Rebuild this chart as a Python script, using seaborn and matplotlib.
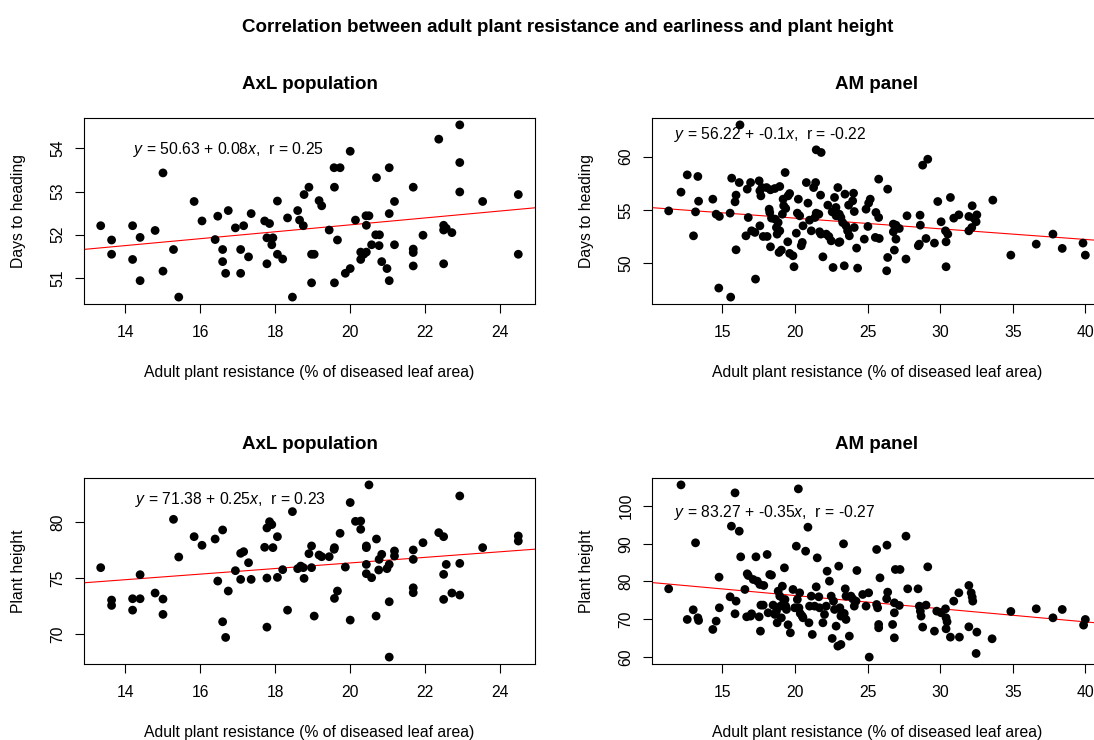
import numpy as np
import pandas as pd
import matplotlib
matplotlib.use("Agg")
import matplotlib.pyplot as plt
import seaborn as sns

# ---------------- data ----------------
main_title = "Correlation between adult plant resistance and earliness and plant height"
panel_titles = ["AxL population", "AM panel", "AxL population", "AM panel"]
x_label = "Adult plant resistance (% of diseased leaf area)"
y_labels = ["Days to heading", "Days to heading", "Plant height", "Plant height"]

intercepts = [50.63, 56.22, 71.38, 83.27]
slopes = [0.08, -0.1, 0.25, -0.35]
r_values = ["0.25", "-0.22", "0.23", "-0.27"]
slope_text = ["0.08", "-0.1", "0.25", "-0.35"]
intercept_text = ["50.63", "56.22", "71.38", "83.27"]

axl_dth_x = [13.35, 13.64, 13.64, 14.20, 14.20, 14.40, 14.40, 14.80, 15.01, 15.01, 15.29, 15.43,
             15.84, 16.05, 16.40, 16.47, 16.60, 16.60, 16.68, 16.75, 16.94, 17.08, 17.08, 17.16,
             17.29, 17.36, 17.72, 17.85, 17.78, 17.94, 17.91, 17.78, 18.06, 18.06, 18.20, 18.33,
             18.46, 18.60, 18.65,
             18.75, 18.77, 18.90, 18.97, 19.04, 18.97, 19.17, 19.24, 19.44, 19.57, 19.73, 19.58,
             19.66, 19.58, 20.00, 19.87, 20.00, 20.14, 20.42, 20.50, 20.43, 20.70, 20.68, 20.78,
             20.57, 20.77, 20.28, 20.43, 20.36, 20.28, 20.84, 20.98, 21.04, 21.04, 21.18, 21.04,
             21.18, 21.68, 21.68, 21.68, 21.68, 21.94, 22.36, 22.49, 22.56, 22.49, 22.71, 22.49,
             22.92, 22.92, 22.92, 23.53, 24.48, 24.48]
axl_dth_y = [52.21, 51.88, 51.55, 52.21, 51.43, 51.94, 50.94, 52.10, 53.43, 51.16, 51.66, 50.56,
             52.77, 52.32, 51.89, 52.43, 51.66, 51.38, 51.11, 52.56, 52.16, 51.66, 51.11, 52.21,
             51.49, 52.49, 52.32, 52.26, 51.93, 51.93, 51.77, 51.33, 52.78, 51.55, 51.44, 52.39,
             50.56, 52.56, 52.34,
             52.21, 52.93, 53.10, 51.55, 51.55, 50.89, 52.79, 52.67, 52.11, 53.55, 53.55, 53.10,
             51.88, 50.89, 53.93, 51.11, 51.22, 52.34, 52.44, 52.44, 52.22, 53.32, 52.00, 52.00,
             51.77, 51.75, 51.60, 51.60, 51.55, 51.43, 51.38, 51.22, 50.94, 53.55, 52.77, 52.49,
             51.77, 53.10, 51.67, 51.59, 51.28, 51.99, 54.21, 52.22, 52.15, 52.11, 52.05, 51.33,
             54.54, 53.67, 52.99, 52.77, 52.93, 51.55]

am_dth_x = [11.30, 12.15, 12.58, 13.31, 13.01, 13.15, 13.36, 14.34, 14.57, 14.79, 14.75, 15.57,
            15.53, 15.64, 15.94, 15.87, 15.94, 16.21, 16.16, 16.78, 16.62, 16.71, 16.94, 17.01,
            17.24, 17.28, 17.53, 17.58, 17.65, 17.72, 17.58, 17.81, 18.08, 18.04, 18.31, 18.22,
            18.26, 18.38, 18.31, 18.61, 18.95, 18.63, 18.84, 18.72, 18.95, 18.77, 18.90, 19.06,
            19.18, 19.22, 19.13, 19.32, 19.36, 19.52, 19.63, 19.50, 19.63, 19.86, 19.93, 20.09,
            20.16, 20.23, 20.32, 20.43, 20.50, 20.55, 20.78, 20.89, 21.00, 21.12, 21.28, 21.42,
            21.46, 21.80, 21.46, 21.37, 21.64, 21.69, 21.78, 21.92, 21.76, 22.15, 22.33, 22.49,
            22.26, 22.56, 22.72, 22.95, 22.62, 23.01, 22.83,
            22.82, 23.05, 23.16, 23.28, 23.09, 23.39, 23.44, 23.51, 23.62, 23.74, 23.69, 23.97,
            24.03, 24.08, 24.08, 24.24, 24.31, 24.77, 24.89, 25.07, 25.18, 25.02, 25.57, 25.76,
            25.53, 25.80, 25.76, 26.38, 26.38, 26.31, 26.77, 26.95, 27.18, 26.77, 26.95, 26.84,
            27.64, 27.71, 28.61, 28.63, 28.56, 28.49, 28.79, 29.14, 29.02, 29.60, 29.83, 30.06,
            30.36, 30.52, 30.40, 30.40, 30.70, 30.93, 31.28, 31.97, 32.20, 32.31, 32.52, 32.47,
            31.97, 32.17, 33.62, 34.86, 36.61, 37.76, 38.40, 39.83, 39.99]
am_dth_y = [54.90, 56.66, 58.28, 58.13, 52.56, 54.81, 55.81, 56.00, 54.59, 54.38, 47.66, 46.81,
            54.69, 57.97, 56.38, 55.75, 51.25, 62.97, 57.56, 54.28, 52.56, 56.94, 57.56, 53.03,
            52.88, 48.50, 57.72, 56.78, 56.31, 57.09, 53.50, 52.50, 52.50, 57.09, 56.88, 55.06,
            54.75, 54.22, 51.53, 57.00, 57.19, 54.13, 53.81, 53.34, 53.03, 52.72, 51.00, 51.22,
            56.00, 55.38, 54.59, 58.50, 55.13, 56.31, 56.53, 52.00, 50.91, 50.69, 49.66, 52.81,
            54.69, 56.00, 54.44, 51.63, 51.94, 53.50, 57.56, 55.63, 54.03, 53.03, 57.09, 57.56,
            60.63, 60.38, 54.69, 54.28, 54.59, 52.94, 52.72, 50.59, 56.38, 52.72, 52.50, 52.09,
            55.44, 54.81, 56.16, 57.09, 49.59, 51.94, 54.44,
            55.22, 54.59, 54.28, 53.81, 52.00, 49.75, 56.47, 53.50, 53.03, 52.56, 55.44, 55.84,
            56.56, 54.84, 53.34, 51.41, 49.53, 52.25, 55.06, 55.63, 56.00, 53.44, 54.75, 54.28,
            52.41, 52.31, 57.88, 56.94, 50.53, 49.28, 53.66, 53.56, 53.25, 52.94, 52.25, 51.22,
            50.38, 54.44, 54.50, 53.56, 51.78, 51.63, 59.19, 59.75, 52.31, 51.88, 55.78, 53.88,
            53.03, 52.72, 52.00, 49.66, 56.16, 54.22, 54.53, 54.38, 55.38, 54.22, 54.53, 53.88,
            53.03, 53.34, 55.91, 50.75, 51.78, 52.72, 51.38, 51.88, 50.75]

axl_ph_x = [13.35, 13.64, 13.64, 14.20, 14.20, 14.40, 14.40, 14.80, 15.01, 15.01, 15.29, 15.43,
            15.84, 16.05, 16.40, 16.47, 16.60, 16.60, 16.68, 16.75, 16.94, 17.08, 17.16, 17.08,
            17.29, 17.36, 17.72, 17.78, 17.85, 17.91, 17.94, 17.78, 17.78, 18.06, 18.06, 18.20,
            18.33, 18.46, 18.60,
            18.68, 18.75, 18.77, 18.90, 18.97, 18.97, 19.04, 19.17, 19.24, 19.44, 19.57, 19.58,
            19.73, 19.66, 19.58, 19.87, 20.00, 20.00, 20.14, 20.28, 20.28, 20.43, 20.43, 20.43,
            20.43, 20.50, 20.57, 20.70, 20.77, 20.84, 20.76, 20.69, 20.98, 21.04, 21.04, 21.04,
            21.18, 21.18, 21.68, 21.68, 21.68, 21.68, 21.94, 22.36, 22.49, 22.56, 22.49, 22.49,
            22.71, 22.92, 22.92, 22.92, 23.53, 24.48, 24.48]
axl_ph_y = [75.96, 73.06, 72.58, 73.18, 72.16, 73.18, 75.33, 73.69, 73.15, 71.78, 80.28, 76.91,
            78.73, 77.96, 78.52, 74.76, 79.33, 71.12, 69.72, 73.87, 75.69, 77.24, 77.39, 74.91,
            76.40, 74.91, 77.78, 79.51, 80.07, 79.81, 77.75, 75.03, 70.64, 78.73, 75.09, 75.78,
            72.16, 80.97, 75.87,
            76.10, 75.96, 75.00, 77.21, 77.90, 75.96, 71.63, 77.09, 76.94, 76.94, 77.60, 77.75,
            79.03, 73.87, 73.21, 76.01, 81.78, 71.27, 80.10, 80.13, 79.39, 77.90, 77.75, 76.25,
            75.42, 83.36, 75.06, 78.52, 76.70, 77.15, 75.75, 71.63, 75.87, 76.25, 72.91, 67.96,
            77.45, 77.00, 77.54, 76.70, 74.16, 73.72, 78.19, 79.09, 78.73, 76.25, 75.36, 73.12,
            73.69, 82.37, 76.34, 73.51, 77.75, 78.79, 78.34]

am_ph_x = [11.30, 12.15, 12.58, 12.99, 13.15, 13.31, 13.36, 14.34, 14.57, 14.77, 14.79, 15.53,
           15.62, 15.87, 15.94, 15.87, 16.16, 16.26, 16.55, 16.71, 16.78, 16.67, 16.94, 17.01,
           17.12, 17.31, 17.40, 17.53, 17.62, 17.58, 17.65, 17.81, 17.85, 18.08, 18.15, 18.26,
           18.38, 18.49, 18.61, 18.72, 18.77, 18.84, 18.95, 19.00, 19.06, 19.13, 19.22, 19.27,
           19.31, 19.36, 19.41, 19.52, 19.68, 19.86, 19.98, 20.09, 20.16, 20.23, 20.32, 20.27,
           20.36, 20.50, 20.55, 20.73, 20.89, 20.96, 21.00, 21.12, 21.19, 21.35, 21.46, 21.53,
           21.64, 21.69, 21.92, 22.03, 22.15, 22.21, 22.37, 22.49, 22.56, 22.65, 22.72, 22.83,
           22.95, 23.01,
           23.09, 23.16, 23.23, 23.16, 23.34, 23.39, 23.46, 23.51, 23.51, 23.74, 23.85, 23.97,
           24.08, 24.26, 24.20, 24.66, 24.89, 25.07, 25.11, 25.62, 25.62, 25.69, 25.76, 25.76,
           25.85, 26.33, 26.31, 26.38, 26.72, 26.84, 26.84, 26.84, 26.91, 27.23, 27.18, 27.64,
           27.76, 28.47, 28.56, 28.63, 28.68, 28.79, 29.02, 29.14, 29.60, 29.76, 30.06, 30.36,
           30.40, 30.47, 30.40, 30.70, 30.93, 31.28, 31.32, 31.97, 32.13, 32.20, 32.24, 31.97,
           32.52, 32.47, 33.57, 34.86, 36.61, 37.76, 38.40, 39.99, 39.87]
am_ph_y = [78.05, 105.66, 69.91, 72.48, 90.27, 70.35, 69.65, 67.26, 69.47, 81.15, 73.01, 75.93,
           94.69, 103.54, 74.78, 71.42, 93.36, 86.55, 77.88, 82.04, 81.59, 70.62, 70.80, 71.42,
           80.53, 86.55, 80.09, 70.62, 66.81, 79.20, 73.72, 73.72, 78.94, 87.17, 71.68, 81.86,
           81.68, 73.72, 71.24, 72.12, 69.03, 77.43, 76.11, 73.45, 70.35, 78.76, 75.04, 83.63,
           75.22, 73.45, 72.57, 68.50, 66.37, 77.88, 73.01, 89.38, 75.22, 104.60, 76.99, 73.01,
           71.50, 70.80, 70.35, 88.05, 94.42, 69.03, 73.45, 76.11, 65.93, 73.45, 78.58, 86.28,
           75.93, 73.01, 69.03, 71.24, 73.45, 82.74, 80.09, 76.11, 64.87, 74.78, 72.57, 68.14,
           62.83, 84.07,
           73.01, 70.80, 71.68, 63.27, 90.00, 71.50, 78.05, 76.11, 69.91, 65.49, 76.11, 75.40,
           73.45, 82.92, 74.78, 76.55, 73.45, 76.99, 59.91, 88.50, 73.89, 73.01, 68.58, 67.70,
           80.97, 89.65, 75.40, 77.17, 68.58, 71.68, 74.34, 65.04, 83.19, 83.19, 73.63, 92.04,
           78.05, 78.05, 73.45, 72.12, 70.80, 67.88, 73.72, 83.89, 66.81, 72.12, 71.68, 72.74,
           70.35, 69.29, 67.43, 65.22, 74.78, 76.99, 65.22, 78.94, 76.99, 75.84, 74.78, 67.96,
           66.55, 60.88, 64.78, 72.04, 72.74, 70.35, 72.57, 69.91, 68.41]

x_ticks_axl = [14, 16, 18, 20, 22, 24]
x_ticks_am = [15, 20, 25, 30, 35, 40]
y_ticks = [[51, 52, 53, 54], [50, 55, 60], [70, 75, 80], [60, 70, 80, 90, 100]]

# ---------------- style ----------------
sns.set_style("white")
plt.rcParams["font.family"] = ["Liberation Sans", "DejaVu Sans"]
plt.rcParams["mathtext.fontset"] = "custom"
plt.rcParams["mathtext.rm"] = "Liberation Sans"
plt.rcParams["mathtext.it"] = "Liberation Sans:italic"
plt.rcParams["text.color"] = "black"
plt.rcParams["axes.labelcolor"] = "black"
plt.rcParams["xtick.color"] = "black"
plt.rcParams["ytick.color"] = "black"

W, H = 1094, 740
fig = plt.figure(figsize=(W / 100, H / 100), dpi=100)
fig.patch.set_facecolor("white")

# axes boxes in pixels: left, top, right, bottom (right panels run past the image edge)
boxes = [(84, 118, 535, 304), (652, 118, 1102, 304),
         (84, 478, 535, 664), (652, 478, 1102, 664)]
eq_pos = [(0.109, 0.833), (0.050, 0.909), (0.113, 0.882), (0.050, 0.813)]

datasets = [(axl_dth_x, axl_dth_y), (am_dth_x, am_dth_y),
            (axl_ph_x, axl_ph_y), (am_ph_x, am_ph_y)]
xticks_all = [x_ticks_axl, x_ticks_am, x_ticks_axl, x_ticks_am]

FS = 11.3
for i, ((l, t, r, b), (xs, ys)) in enumerate(zip(boxes, datasets)):
    ax = fig.add_axes([l / W, 1 - b / H, (r - l) / W, (b - t) / H])
    df = pd.DataFrame({"x": xs, "y": ys})
    sns.scatterplot(data=df, x="x", y="y", ax=ax, color="black", s=40,
                    linewidth=0, edgecolor="none", zorder=3)
    ax.axline((0, intercepts[i]), slope=slopes[i], color="red", lw=0.8, zorder=2)
    xr = max(xs) - min(xs)
    yr = max(ys) - min(ys)
    ax.set_xlim(min(xs) - 0.04 * xr, max(xs) + 0.04 * xr)
    ax.set_ylim(min(ys) - 0.04 * yr, max(ys) + 0.04 * yr)
    ax.set_xticks(xticks_all[i])
    ax.set_yticks(y_ticks[i])
    ax.set_xlabel("")
    ax.set_ylabel("")
    for s in ax.spines.values():
        s.set_visible(True)
        s.set_color("black")
        s.set_linewidth(0.8)
    ax.tick_params(axis="both", direction="out", length=6.5, width=0.8,
                   colors="black", labelsize=FS, bottom=True, left=True)
    ax.tick_params(axis="x", pad=8.5)
    ax.tick_params(axis="y", pad=7, labelrotation=90)
    for lab in ax.get_yticklabels():
        lab.set_va("center")
    hgt = b - t
    wid = r - l
    ax.text(0.5, 1 + 29 / hgt, panel_titles[i], transform=ax.transAxes,
            ha="center", va="baseline", fontsize=13.5, fontweight="bold")
    ax.text(0.5, -72.7 / hgt, x_label, transform=ax.transAxes, ha="center",
            va="baseline", fontsize=FS)
    ax.text(-65 / wid, 0.5, y_labels[i], transform=ax.transAxes, ha="center",
            va="center", rotation=90, fontsize=FS)
    eq = "$y$ = " + intercept_text[i] + " + " + slope_text[i] + "$x$,  r = " + r_values[i]
    ax.text(eq_pos[i][0], eq_pos[i][1], eq, transform=ax.transAxes, ha="left",
            va="center", fontsize=FS)

fig.text(568 / W, 1 - 31.7 / H, main_title, ha="center", va="baseline",
         fontsize=13.5, fontweight="bold")

fig.savefig("out.png", dpi=100, facecolor="white")
